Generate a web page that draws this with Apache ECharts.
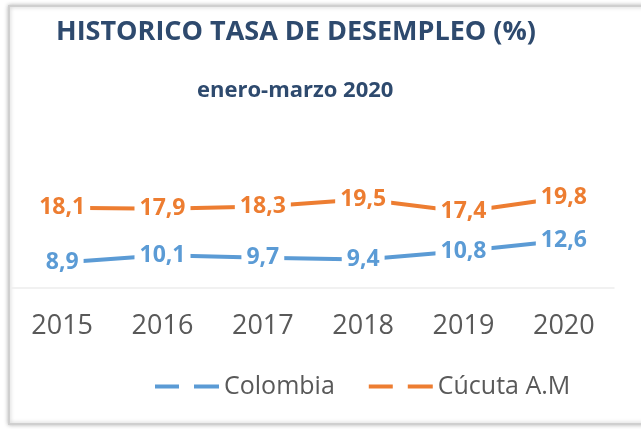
<!DOCTYPE html>
<html>
<head>
<meta charset="utf-8">
<script src="https://cdn.jsdelivr.net/npm/echarts@6/dist/echarts.min.js"></script>
<style>
	html, body { margin: 0; padding: 0; background: #fff; }
	#chart { width: 641px; height: 429px; }
</style>
</head>
<body>
<div id="chart"></div>
<script>
var years = ["2015", "2016", "2017", "2018", "2019", "2020"];
var colombia = [8.9, 10.1, 9.7, 9.4, 10.8, 12.6];
var cucuta = [18.1, 17.9, 18.3, 19.5, 17.4, 19.8];
var seriesNames = ["Colombia", "Cúcuta A.M"];

(function() {
	var myChart = echarts.init(document.getElementById("chart"));
	var font = "'Open Sans', sans-serif";

	function makeSeries(name, data, color) {
		return {
			name: name,
			type: "line",
			data: data,
			symbol: "circle",
			symbolSize: 0,
			showSymbol: true,
			itemStyle: { color: color },
			lineStyle: { color: color, width: 4 },
			label: {
				show: true,
				position: "inside",
				color: color,
				fontFamily: font,
				fontWeight: "bold",
				fontSize: 23,
				backgroundColor: "#fff",
				padding: [1, 5],
				formatter: function(p) {
					return String(p.value).replace(".", ",");
				}
			},
			emphasis: { disabled: true }
		};
	}

	var option = {
		backgroundColor: "#fff",
		animation: false,
		graphic: [{
			type: "rect",
			z: -10,
			shape: { x: 9, y: 6, width: 660, height: 418 },
			style: {
				fill: "#fff",
				stroke: "#cfcfcf",
				lineWidth: 2,
				shadowBlur: 4,
				shadowColor: "rgba(0,0,0,0.25)"
			}
		}],
		title: [{
			text: "HISTORICO TASA DE DESEMPLEO (%)",
			left: 56,
			top: 19,
			padding: 0,
			textStyle: { fontFamily: font, fontWeight: "bold", fontSize: 27, color: "#2e4a6e" }
		}, {
			text: "enero-marzo 2020",
			left: 197,
			top: 80,
			padding: 0,
			textStyle: { fontFamily: font, fontWeight: "bold", fontSize: 22, color: "#2e4a6e" }
		}],
		legend: {
			data: seriesNames,
			left: 155,
			top: 374,
			padding: 0,
			itemGap: 34,
			itemWidth: 64,
			itemHeight: 4,
			icon: "path://M0,0H24V4H0Z M39,0H64V4H39Z",
			textStyle: { fontFamily: font, fontSize: 25, color: "#595959" }
		},
		grid: { left: 12, right: 27, top: 169, bottom: 141, containLabel: false },
		xAxis: {
			type: "category",
			data: years,
			boundaryGap: true,
			axisLine: { show: true, lineStyle: { color: "#ededed", width: 1.5 } },
			axisTick: { show: false },
			axisLabel: { margin: 25, fontFamily: font, fontSize: 27, color: "#595959" }
		},
		yAxis: {
			type: "value",
			min: 4.6,
			max: 24.6,
			show: false,
			splitLine: { show: false }
		},
		series: [
			makeSeries(seriesNames[0], colombia, "#5b9bd5"),
			makeSeries(seriesNames[1], cucuta, "#ed7d31")
		]
	};

	myChart.setOption(option);

	window.addEventListener("resize", function() {
		myChart.resize();
	});
})();
</script>
</body>
</html>
